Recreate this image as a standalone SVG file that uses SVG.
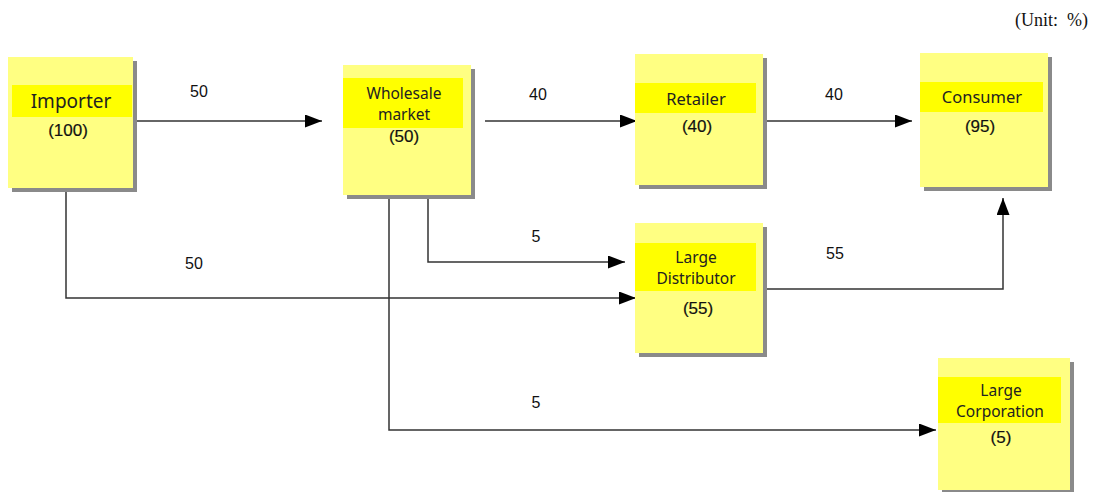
<svg xmlns="http://www.w3.org/2000/svg" width="1096" height="492" viewBox="0 0 1096 492">
  <style>
    .shadow { fill: #8a8a8a; }
    .box { fill: #ffff82; }
    .band { fill: #ffff00; }
    .name { font-family: "Noto Sans", "DejaVu Sans", sans-serif; font-size: 16.5px; fill: #222; text-anchor: middle; }
    .two { font-size: 15.5px; }
    .qty { font-family: "Liberation Sans", Arial, sans-serif; font-size: 17px; fill: #111; stroke: #111; stroke-width: 0.2; text-anchor: middle; }
    .flow { fill: none; stroke: #333; stroke-width: 1.5; }
    .amt { font-family: "Liberation Sans", Arial, sans-serif; font-size: 16px; fill: #111; text-anchor: middle; }
    .unit { font-family: "Liberation Serif", "Times New Roman", serif; font-size: 18px; fill: #111; text-anchor: end; }
  </style>
  <defs>
    <marker id="arrow" markerUnits="userSpaceOnUse" markerWidth="18" markerHeight="14" refX="17" refY="6.5" orient="auto">
      <path d="M0,0 L17,6.5 L0,13 z" fill="#000"/>
    </marker>
  </defs>
  <rect width="1096" height="492" fill="#fff"/>

  <text class="unit" x="1088" y="26">(Unit:&#160; %)</text>

  <g id="connectors">
    <line class="flow" x1="133" y1="121" x2="322" y2="121" marker-end="url(#arrow)"/>
    <line class="flow" x1="485" y1="121" x2="637" y2="121" marker-end="url(#arrow)"/>
    <line class="flow" x1="767" y1="121" x2="912" y2="121" marker-end="url(#arrow)"/>
    <polyline class="flow" points="66,188 66,298 636,298" marker-end="url(#arrow)"/>
    <polyline class="flow" points="428,195 428,262 625,262" marker-end="url(#arrow)"/>
    <polyline class="flow" points="389,195 389,430 936,430" marker-end="url(#arrow)"/>
    <polyline class="flow" points="767,289 1003,289 1003,198" marker-end="url(#arrow)"/>
    <text class="amt" x="199" y="97">50</text>
    <text class="amt" x="538" y="100">40</text>
    <text class="amt" x="834" y="100">40</text>
    <text class="amt" x="536" y="242">5</text>
    <text class="amt" x="194" y="269">50</text>
    <text class="amt" x="835" y="259">55</text>
    <text class="amt" x="536" y="408">5</text>
  </g>

  <g id="importer">
    <rect class="shadow" x="12" y="61" width="125" height="131"/>
    <rect class="box" x="8" y="57" width="125" height="131"/>
    <rect class="band" x="12" y="85" width="120" height="32"/>
    <text class="name" x="71" y="108" style="font-size:19px">Importer</text>
    <text class="qty" x="68" y="136">(100)</text>
  </g>

  <g id="wholesale">
    <rect class="shadow" x="347" y="69" width="128" height="130"/>
    <rect class="box" x="343" y="65" width="128" height="130"/>
    <rect class="band" x="343" y="78" width="120" height="50"/>
    <text class="name two" x="404" y="99">Wholesale</text>
    <text class="name two" x="404" y="120">market</text>
    <text class="qty" x="404" y="142">(50)</text>
  </g>

  <g id="retailer">
    <rect class="shadow" x="639" y="58" width="128" height="131"/>
    <rect class="box" x="635" y="54" width="128" height="131"/>
    <rect class="band" x="635" y="83" width="121" height="30"/>
    <text class="name" x="696" y="105">Retailer</text>
    <text class="qty" x="697" y="132">(40)</text>
  </g>

  <g id="consumer">
    <rect class="shadow" x="924" y="57" width="128" height="134"/>
    <rect class="box" x="920" y="53" width="128" height="134"/>
    <rect class="band" x="920" y="82" width="123" height="30"/>
    <text class="name" x="982" y="103">Consumer</text>
    <text class="qty" x="980" y="132">(95)</text>
  </g>

  <g id="large-distributor">
    <rect class="shadow" x="639" y="227" width="128" height="130"/>
    <rect class="box" x="635" y="223" width="128" height="130"/>
    <rect class="band" x="635" y="243" width="121" height="48"/>
    <text class="name two" x="696" y="263">Large</text>
    <text class="name two" x="696" y="284">Distributor</text>
    <text class="qty" x="698" y="314">(55)</text>
  </g>

  <g id="large-corporation">
    <rect class="shadow" x="942" y="362" width="132" height="132"/>
    <rect class="box" x="938" y="358" width="132" height="132"/>
    <rect class="band" x="938" y="377" width="123" height="46"/>
    <text class="name two" x="1001" y="396">Large</text>
    <text class="name two" x="1000" y="417">Corporation</text>
    <text class="qty" x="1001" y="443">(5)</text>
  </g>
</svg>
